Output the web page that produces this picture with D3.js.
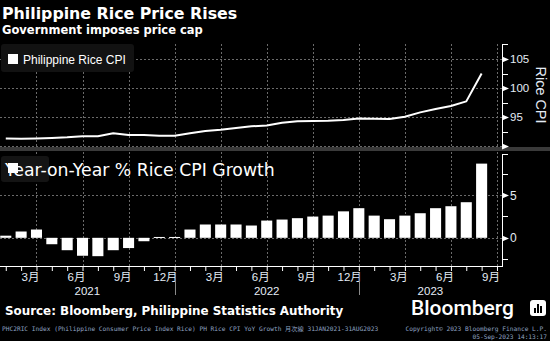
<!DOCTYPE html>
<html>
<head>
<meta charset="utf-8">
<script src="https://cdn.jsdelivr.net/npm/d3@7"></script>
<style>
  body { margin: 0; background: #000; }
  svg { display: block; }
</style>
</head>
<body>
<div id="chart"></div>
<script>
// monthly points, Jan 2021 .. Aug 2023 (plus Sep 2023 for the last tick)
var months = [
  "2021-01","2021-02","2021-03","2021-04","2021-05","2021-06","2021-07","2021-08","2021-09","2021-10","2021-11","2021-12",
  "2022-01","2022-02","2022-03","2022-04","2022-05","2022-06","2022-07","2022-08","2022-09","2022-10","2022-11","2022-12",
  "2023-01","2023-02","2023-03","2023-04","2023-05","2023-06","2023-07","2023-08","2023-09"
];

var riceCpi = [
  91.3, 91.25, 91.3, 91.4, 91.5, 91.7, 91.7, 92.2, 91.9, 91.9, 91.75, 91.75,
  92.2, 92.6, 92.8, 93.1, 93.4, 93.55, 94.0, 94.25, 94.3, 94.35, 94.5, 94.75,
  94.7, 94.65, 95.05, 95.8, 96.4, 96.9, 97.7, 102.5
];

var yoyGrowth = [
  0.25, 0.74, 0.97, -0.75, -1.45, -2.1, -2.15, -1.45, -1.2, -0.4, 0.1, 0.1,
  0.97, 1.56, 1.56, 1.56, 1.44, 2.02, 2.14, 2.3, 2.49, 2.6, 3.1, 3.47,
  2.6, 2.18, 2.6, 2.88, 3.47, 3.7, 4.17, 8.69
];

var cpiTicks = [90, 95, 100, 105];
var cpiMinor = [92.5, 97.5, 102.5];
var yoyTicks = [0, 5];
var yoyMinor = [-2.5, 2.5, 7.5];
var quarterMonths = ["2021-03","2021-06","2021-09","2021-12","2022-03","2022-06","2022-09","2022-12","2023-03","2023-06","2023-09"];
var yearSpans = [["2021", null, "2021-12"], ["2022", "2021-12", "2022-12"], ["2023", "2022-12", null]];

var W = 550, H = 341;
var plotRight = 502;
var top1 = 44, bot1 = 146, top2 = 152, bot2 = 266;

var svg = d3.select("#chart").append("svg")
  .attr("width", W).attr("height", H)
  .style("background", "#000");

var x = d3.scaleBand().domain(months)
  .range([-1.9, 504.65])
  .paddingInner(0.28).paddingOuter(0.14);
function cx(m){ return x(m) + x.bandwidth() / 2; }

var yCpi = d3.scaleLinear().domain([90, 107.6]).range([bot1, top1]);
var yYoy = d3.scaleLinear().domain([-3.3, 10.05]).range([bot2, top2]);

var gridColor = "#6a6a6a";
var labelColor = "#e4ecf6";

// titles
svg.append("text").attr("x", 2).attr("y", 18.5)
  .style("font-family", "DejaVu Sans").style("font-weight", "bold").style("font-size", "15.8px")
  .attr("fill", "#fff").text("Philippine Rice Price Rises");
svg.append("text").attr("x", 2).attr("y", 34)
  .style("font-family", "DejaVu Sans").style("font-weight", "bold").style("font-size", "11.5px")
  .attr("fill", "#fff").text("Government imposes price cap");

// panel separator
svg.append("rect").attr("x", 0).attr("y", 147).attr("width", W).attr("height", 4).attr("fill", "#3a3a3a");

function grid(g, yScale, ticks, y0, y1){
  g.selectAll(".hgrid").data(ticks).enter().append("line")
    .attr("x1", 0).attr("x2", plotRight)
    .attr("y1", function(d){ return Math.round(yScale(d)) + 0.5; })
    .attr("y2", function(d){ return Math.round(yScale(d)) + 0.5; })
    .attr("stroke", gridColor).attr("stroke-dasharray", "2,2");
  g.selectAll(".vgrid").data(quarterMonths).enter().append("line")
    .attr("x1", function(d){ return Math.round(cx(d)) + 0.5; })
    .attr("x2", function(d){ return Math.round(cx(d)) + 0.5; })
    .attr("y1", y0).attr("y2", y1)
    .attr("stroke", gridColor).attr("stroke-dasharray", "2,2");
}

function rightAxis(g, yScale, major, minor, y0, y1){
  g.append("line").attr("x1", plotRight + 0.5).attr("x2", plotRight + 0.5)
    .attr("y1", y0).attr("y2", y1).attr("stroke", "#fff");
  g.append("line").attr("x1", plotRight).attr("x2", plotRight + 6)
    .attr("y1", y0 + 0.5).attr("y2", y0 + 0.5).attr("stroke", "#fff");
  g.selectAll(".minor").data(minor).enter().append("line")
    .attr("x1", plotRight).attr("x2", plotRight + 6)
    .attr("y1", function(d){ return Math.round(yScale(d)) + 0.5; })
    .attr("y2", function(d){ return Math.round(yScale(d)) + 0.5; })
    .attr("stroke", "#fff");
  g.selectAll(".major").data(major).enter().append("path")
    .attr("d", function(d){
      var yy = Math.round(yScale(d)) + 0.5;
      return "M" + plotRight + "," + (yy - 3) + "L" + (plotRight + 7) + "," + yy + "L" + plotRight + "," + (yy + 3) + "Z";
    })
    .attr("fill", "#fff");
}

// ---- top panel: rice CPI line ----
var g1 = svg.append("g");
grid(g1, yCpi, cpiTicks, top1, bot1);
rightAxis(g1, yCpi, cpiTicks, cpiMinor, top1, bot1);

g1.selectAll(".cpi-label").data(cpiTicks.filter(function(d){ return d > 90; })).enter().append("text")
  .attr("x", 510).attr("y", function(d){ return yCpi(d) + 4; })
  .style("font-family", "Liberation Sans").style("font-size", "11.5px")
  .attr("fill", labelColor).text(function(d){ return d; });

g1.append("text")
  .attr("transform", "translate(535.5," + (yCpi(98.8)) + ") rotate(90)")
  .attr("text-anchor", "middle")
  .style("font-family", "Liberation Sans").style("font-size", "14.4px")
  .attr("fill", labelColor).text("Rice CPI");

var line = d3.line()
  .x(function(d, i){ return cx(months[i]); })
  .y(function(d){ return yCpi(d); });

g1.append("path").datum(riceCpi)
  .attr("d", line)
  .attr("fill", "none").attr("stroke", "#fff").attr("stroke-width", 2)
  .attr("stroke-linejoin", "round");

// legend
g1.append("rect").attr("x", 1).attr("y", 44).attr("width", 133).attr("height", 28).attr("rx", 3)
  .attr("fill", "#121212");
g1.append("rect").attr("x", 8).attr("y", 54).attr("width", 10).attr("height", 10).attr("fill", "#fff");
g1.append("text").attr("x", 23).attr("y", 63.5)
  .style("font-family", "Liberation Sans").style("font-size", "12px")
  .attr("fill", "#fff").text("Philippine Rice CPI");

// ---- bottom panel: YoY growth bars ----
var g2 = svg.append("g");
grid(g2, yYoy, yoyTicks, top2, bot2);
rightAxis(g2, yYoy, yoyTicks, yoyMinor, top2 + 2, bot2);

g2.selectAll(".yoy-label").data(yoyTicks).enter().append("text")
  .attr("x", 510).attr("y", function(d){ return yYoy(d) + 4.5; })
  .style("font-family", "Liberation Sans").style("font-size", "12px")
  .attr("fill", labelColor).text(function(d){ return d; });

g2.selectAll(".bar").data(yoyGrowth).enter().append("rect")
  .attr("x", function(d, i){ return x(months[i]); })
  .attr("width", x.bandwidth())
  .attr("y", function(d){ return yYoy(Math.max(0, d)); })
  .attr("height", function(d){ return Math.max(1, Math.abs(yYoy(d) - yYoy(0))); })
  .attr("fill", "#fff");

g2.append("rect").attr("x", 1).attr("y", 156).attr("width", 48).attr("height", 26).attr("rx", 3)
  .attr("fill", "#141414");
g2.append("text").attr("x", 5).attr("y", 175.5)
  .style("font-family", "DejaVu Sans").style("font-size", "17.3px")
  .attr("fill", "#fff").text("Year-on-Year % Rice CPI Growth");
g2.append("rect").attr("x", 8).attr("y", 163).attr("width", 10).attr("height", 10).attr("fill", "#fff");

// ---- x axis ----
var gx = svg.append("g").attr("transform", "translate(0," + bot2 + ")");
var xPoint = d3.scalePoint().domain(months).range([cx(months[0]), cx(months[months.length - 1])]);
gx.call(d3.axisBottom(xPoint).tickSize(5).tickFormat(""))
  .call(function(a){
    a.select(".domain").attr("stroke", "#fff").attr("d", "M0,0.5H" + (plotRight + 1));
    a.selectAll(".tick line").attr("stroke", "#fff");
  });

gx.selectAll(".month-label").data(quarterMonths).enter().append("text")
  .attr("x", function(d){ return cx(d) + 3; })
  .attr("y", 15)
  .attr("text-anchor", "end")
  .style("font-family", "Liberation Sans, Noto Sans CJK JP").style("font-size", "11.5px")
  .attr("fill", labelColor)
  .text(function(d){ return (+d.slice(5)) + "月"; });

gx.selectAll(".year-sep").data(["2021-12", "2022-12"]).enter().append("line")
  .attr("x1", function(d){ return Math.round(cx(d)) + 0.5; })
  .attr("x2", function(d){ return Math.round(cx(d)) + 0.5; })
  .attr("y1", 7).attr("y2", 29)
  .attr("stroke", "#8a8a8a");

gx.selectAll(".year-label").data(yearSpans).enter().append("text")
  .attr("x", function(d){
    var a = d[1] ? cx(d[1]) : 0, b = d[2] ? cx(d[2]) : plotRight;
    return (a + b) / 2;
  })
  .attr("y", 28.5)
  .attr("text-anchor", "middle")
  .style("font-family", "Liberation Sans").style("font-size", "11.5px")
  .attr("fill", labelColor)
  .text(function(d){ return d[0]; });

// ---- footer ----
svg.append("text").attr("x", 5).attr("y", 315)
  .style("font-family", "DejaVu Sans").style("font-weight", "bold").style("font-size", "11.9px")
  .attr("fill", "#fff").text("Source: Bloomberg, Philippine Statistics Authority");

svg.append("text").attr("x", 411).attr("y", 315)
  .style("font-family", "Roboto").style("font-weight", "500").style("font-size", "21px")
  .attr("fill", "#fff").text("Bloomberg");

var logo = svg.append("g").attr("transform", "translate(530,300)");
logo.append("rect").attr("width", 16).attr("height", 16).attr("rx", 3).attr("fill", "#fff");
logo.selectAll(".lb").data([[4, 8, 5], [7, 4, 9], [10, 6, 7]]).enter().append("rect")
  .attr("x", function(d){ return d[0]; }).attr("y", function(d){ return d[1]; })
  .attr("width", 2).attr("height", function(d){ return d[2]; }).attr("fill", "#000");

var small = { "font-family": "DejaVu Sans Mono, Noto Sans CJK JP", "font-size": "6.2px" };
svg.append("text").attr("x", 2).attr("y", 331)
  .style("font-family", small["font-family"]).style("font-size", small["font-size"])
  .attr("fill", "#8fa2c0")
  .text("PHC2RIC Index (Philippine Consumer Price Index Rice) PH Rice CPI YoY Growth  月次線 31JAN2021-31AUG2023");
svg.append("text").attr("x", 547).attr("y", 331).attr("text-anchor", "end")
  .style("font-family", small["font-family"]).style("font-size", small["font-size"])
  .attr("fill", "#8fa2c0").text("Copyright\u00a9 2023 Bloomberg Finance L.P.");
svg.append("text").attr("x", 547).attr("y", 339).attr("text-anchor", "end")
  .style("font-family", small["font-family"]).style("font-size", small["font-size"])
  .attr("fill", "#8fa2c0").text("05-Sep-2023 14:13:17");
</script>
</body>
</html>
